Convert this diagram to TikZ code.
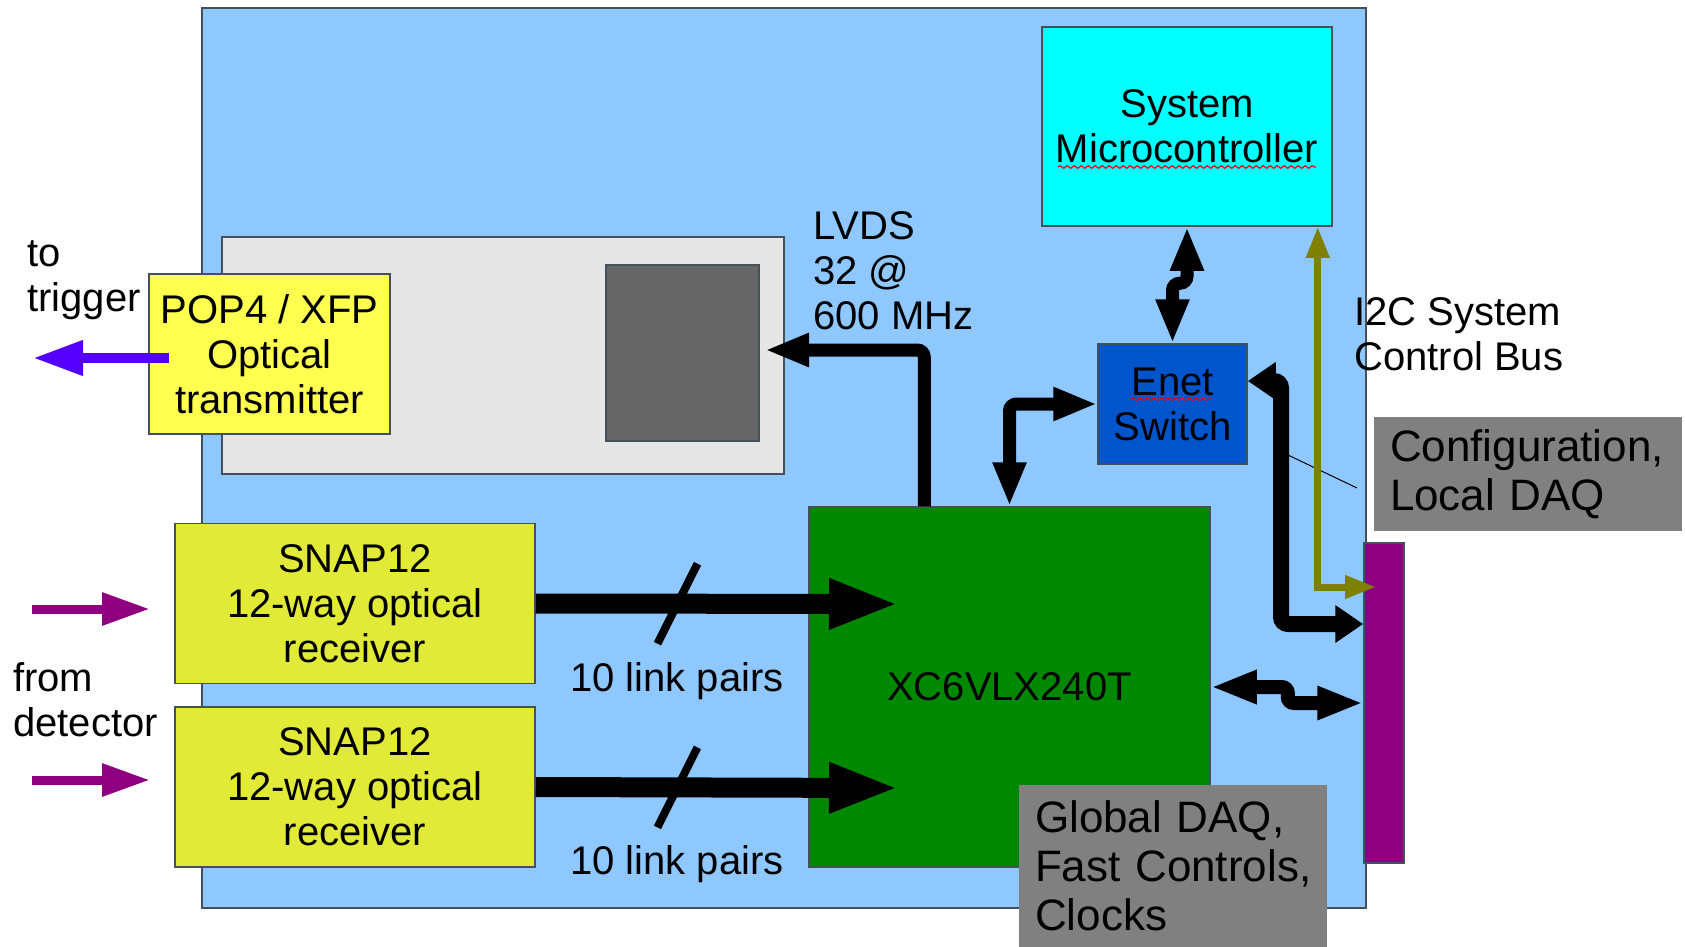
\documentclass[tikz,border=0pt]{standalone}
\usepackage{fontspec}
\setmainfont{Liberation Sans}
\usetikzlibrary{positioning, arrows.meta, calc, decorations.pathmorphing}

\definecolor{boardblue}{RGB}{143,200,255}
\definecolor{ctrlcyan}{RGB}{0,255,255}
\definecolor{enetblue}{RGB}{0,85,204}
\definecolor{fpgagreen}{RGB}{0,136,0}
\definecolor{modgray}{RGB}{230,230,230}
\definecolor{chipgray}{RGB}{102,102,102}
\definecolor{txyellow}{RGB}{255,255,80}
\definecolor{rxyellow}{RGB}{226,234,56}
\definecolor{notegray}{RGB}{128,128,128}
\definecolor{buspurple}{RGB}{142,0,128}
\definecolor{trigblue}{RGB}{85,0,255}
\definecolor{i2colive}{RGB}{128,128,0}
\definecolor{edgegray}{RGB}{70,80,90}

\tikzset{
    busTip/.tip={Triangle[length=44pt, width=31pt]},
    capTip/.tip={Triangle[length=28pt, width=36pt]},
}

\begin{document}
\begin{tikzpicture}[
    x=1pt, y=-1pt,
    font=\fontsize{40}{45}\selectfont,
    box/.style={draw=edgegray, line width=1.5pt, inner sep=0pt, align=center},
    board/.style={box, fill=boardblue, minimum width=1164pt, minimum height=900pt},
    module/.style={box, fill=modgray, minimum width=562pt, minimum height=237pt},
    chip/.style={box, fill=chipgray, minimum width=153pt, minimum height=176pt},
    txbox/.style={box, fill=txyellow, minimum width=241pt, minimum height=160pt},
    rxbox/.style={box, fill=rxyellow, minimum width=360pt, minimum height=160pt},
    fpgabox/.style={box, fill=fpgagreen, minimum width=401pt, minimum height=360pt},
    ctrl/.style={box, fill=ctrlcyan, minimum width=290pt, minimum height=199pt},
    switchbox/.style={box, fill=enetblue, minimum width=149pt, minimum height=120pt},
    busbar/.style={box, fill=buspurple, minimum width=40pt, minimum height=320pt},
    note/.style={draw=none, fill=notegray, inner xsep=16pt, inner ysep=0pt, text width=276pt,
        align=left, minimum height=114pt, font=\fontsize{44}{49}\selectfont},
    lbl/.style={inner sep=0pt, align=left},
    link/.style={line width=20pt, -{Triangle[length=70pt, width=46pt]}},
    slash/.style={line width=8pt},
    bus/.style={line width=13pt, rounded corners=7pt},
    spell/.style={red, line width=1.2pt, decorate, decoration={snake, amplitude=1.3pt, segment length=7pt}},
]
\useasboundingbox (0,0) rectangle (1685,946);

% carrier board
\node[board] (board) at (784,458) {};

% transmitter module
\node[module] (mod) at (503,355.5) {};
\node[chip] (chip) at (682.5,353) {};
\node[txbox] (pop4) at (269.5,354) {POP4 / XFP\\Optical\\transmitter};

% receivers
\node[rxbox] (snapA) at (355,603.5) {SNAP12\\12-way optical\\receiver};
\node[rxbox] (snapB) at (355,787) {SNAP12\\12-way optical\\receiver};

% fpga, controller, switch
\node[fpgabox] (fpga) at (1009.5,687) {XC6VLX240T};
\node[ctrl] (micro) at (1187,126.5) {System\\Microcontroller};
\node[switchbox] (enet) at (1172.5,404) {Enet\\Switch};

% backplane connector and notes
\node[busbar] (bar) at (1384,703) {};
\node[note] (cfg) at (1528,474) {\mbox{Configuration,}\\\mbox{Local DAQ}};
\node[note, minimum height=162pt] (gdaq) at (1173,866) {\mbox{Global DAQ,}\\\mbox{Fast Controls,}\\\mbox{Clocks}};

% outside labels
\node[lbl, anchor=west] (trig) at (27,280) {to\\trigger};
\node[lbl, anchor=west] (det) at (13,700) {from\\detector};
\node[lbl, anchor=west] (lvds) at (813,271) {LVDS\\32 @\\600 MHz};
\node[lbl, anchor=west] (i2c) at (1354,334) {I2C System\\Control Bus};
\node[lbl] (pairA) at (677,681) {10 link pairs};
\node[lbl] (pairB) at (677,864) {10 link pairs};

% spell check marks
\draw[spell] (1058,167) -- (1316,167);
\draw[spell] (1131,399) -- (1212,399);

% trigger output
\coordinate (trigTip) at (33,358);
\draw[trigblue, line width=10pt, -{Triangle[length=50pt, width=33pt]}]
    ($(pop4.west)+(21,4)$) -- (trigTip);

% detector inputs
\coordinate (inA) at (32,609);
\coordinate (inB) at (32,780);
\draw[buspurple, line width=9pt, -{Triangle[length=48pt, width=31pt]}] (inA) -- ++(118,0);
\draw[buspurple, line width=9pt, -{Triangle[length=48pt, width=31pt]}] (inB) -- ++(118,0);

% link pairs into the fpga
\coordinate (tipA) at (899,604);
\coordinate (tipB) at (899,788);
\draw[link] (snapA.east) -- (tipA);
\draw[link] (snapB.east) -- (tipB);
\coordinate (mA) at ($(snapA.east)!0.39!(tipA)$);
\coordinate (mB) at ($(snapB.east)!0.39!(tipB)$);
\draw[slash] ($(mA)+(20,-40)$) -- ($(mA)+(-20,40)$);
\draw[slash] ($(mB)+(20,-40)$) -- ($(mB)+(-20,40)$);

% lvds to transmitter
\coordinate (lvdsTip) at (765,350);
\draw[bus, -busTip] ($(fpga.north west)+(116,0)$) |- (lvdsTip);

% fpga <-> switch <-> controller
\draw[bus, busTip-busTip] (fpga.north) |- (enet.west);
\draw[bus, busTip-busTip] (enet.north) -- ++(0,-60) -| (micro.south);

% switch <-> backplane
\coordinate (bendC) at (1281,500);
\draw[line width=16pt, rounded corners=7pt, capTip-capTip]
    ($(enet.east)+(0,-23)$) -| (bendC) |- ($(bar.west)+(0,-79)$);
\draw[line width=1pt] (1288,455) -- (1357,488);

% fpga <-> backplane
\draw[line width=14pt, rounded corners=6pt, {Triangle[length=46pt, width=31pt]}-{Triangle[length=46pt, width=31pt]}]
    (fpga.east) -- ++(77,0) |- (bar.west);

% i2c bus
\draw[i2colive, line width=7pt, {Triangle[length=31pt, width=22pt]}-{Triangle[length=31pt, width=22pt]}]
    ($(micro.south east)+(-15,0)$) |- (1376,587);

\end{tikzpicture}
\end{document}
